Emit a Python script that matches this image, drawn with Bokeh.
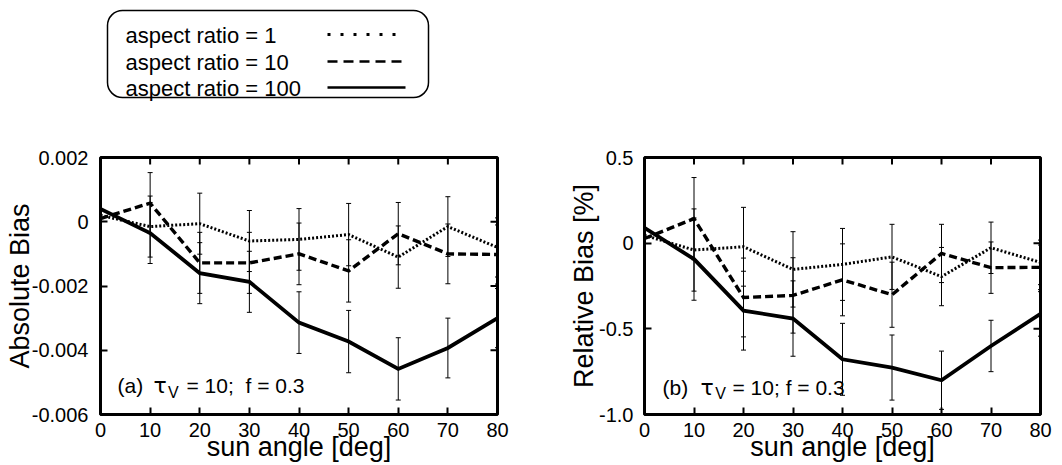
from bokeh.plotting import figure
from bokeh.layouts import column, row
from bokeh.models import (Range1d, FixedTicker, Whisker, TeeHead,
                          ColumnDataSource, Label, BoxAnnotation)
from bokeh.core.properties import value
from bokeh.embed import file_html
from bokeh.resources import INLINE

FONT = "Liberation Sans"

# ---------------- data ----------------
sun_angle = [0, 10, 20, 30, 40, 50, 60, 70, 80]
series_labels = ["aspect ratio = 1", "aspect ratio = 10", "aspect ratio = 100"]

# (a) absolute bias
abs_ar1 = [0.0002, -0.00015, -0.00006, -0.0006, -0.00055, -0.0004, -0.0011, -0.00015, -0.0008]
abs_ar10 = [0.0001, 0.00058, -0.00128, -0.00128, -0.0010, -0.00153, -0.00037, -0.0010, -0.00102]
abs_ar100 = [0.0004, -0.00035, -0.0016, -0.00187, -0.00314, -0.00373, -0.00458, -0.00393, -0.0030]
abs_err = [0.0, 0.00095, 0.00095, 0.00095, 0.00096, 0.00097, 0.00097, 0.00093, 0.00092]

# (b) relative bias [%]
rel_ar1 = [0.046, -0.04, -0.021, -0.153, -0.124, -0.08, -0.195, -0.027, -0.112]
rel_ar10 = [0.027, 0.143, -0.317, -0.305, -0.214, -0.301, -0.06, -0.143, -0.141]
rel_ar100 = [0.089, -0.093, -0.394, -0.44, -0.678, -0.726, -0.80, -0.60, -0.413]
rel_err = [0.0, 0.24, 0.23, 0.22, 0.21, 0.19, 0.17, 0.15, 0.13]

x_ticks = [0, 10, 20, 30, 40, 50, 60, 70, 80]
abs_ticks = [0.002, 0, -0.002, -0.004, -0.006]
abs_tick_labels = ["0.002", "0", "-0.002", "-0.004", "-0.006"]
rel_ticks = [0.5, 0, -0.5, -1.0]
rel_tick_labels = ["0.5", "0", "-0.5", "-1.0"]

styles = [
    dict(line_dash="2 2", line_width=3.0),
    dict(line_dash="8 4", line_width=3.4),
    dict(line_dash="solid", line_width=3.8),
]

TICK_LEN = 7


def make_panel(values, err, yr, yticks, ylabels, ylabel, width, height,
               bl, br, bt, bb, ystand, ylab_stand, tag, ann):
    p = figure(width=width, height=height,
               x_range=Range1d(0, 80), y_range=Range1d(*yr),
               min_border_left=bl, min_border_right=br,
               min_border_top=bt, min_border_bottom=bb,
               toolbar_location=None, output_backend="svg")
    p.grid.visible = False
    p.outline_line_color = "black"
    p.outline_line_width = 3
    p.background_fill_color = "white"
    p.border_fill_color = "white"

    p.xaxis.ticker = FixedTicker(ticks=x_ticks)
    p.yaxis.ticker = FixedTicker(ticks=yticks)
    p.yaxis.major_label_overrides = {t: l for t, l in zip(yticks, ylabels)}
    for ax in p.xaxis + p.yaxis:
        ax.axis_line_color = None
        ax.major_tick_in = TICK_LEN
        ax.major_tick_out = 0
        ax.major_tick_line_width = 2
        ax.minor_tick_line_color = None
        ax.major_label_text_font = FONT
        ax.major_label_text_font_size = "20px"
        ax.major_label_text_color = "black"
        ax.axis_label_text_font = FONT
        ax.axis_label_text_font_size = "27px"
        ax.axis_label_text_font_style = "normal"
        ax.axis_label_text_color = "black"
    p.xaxis.axis_label = "sun angle [deg]"
    p.xaxis.major_label_standoff = 8
    p.xaxis.axis_label_standoff = -8
    p.yaxis.axis_label = ylabel
    p.yaxis.major_label_standoff = ystand
    p.yaxis.axis_label_standoff = ylab_stand

    # mirrored inward ticks on top and right sides of the frame
    fw = width - bl - br
    fh = height - bt - bb
    ymin, ymax = yr
    dy = TICK_LEN * (ymax - ymin) / fh
    dx = TICK_LEN * 80 / fw
    p.segment(x0=x_ticks, y0=[ymax] * len(x_ticks), x1=x_ticks,
              y1=[ymax - dy] * len(x_ticks), line_color="black", line_width=2)
    p.segment(x0=[80] * len(yticks), y0=yticks, x1=[80 - dx] * len(yticks),
              y1=yticks, line_color="black", line_width=2)

    # error bars
    for vals in values:
        xs, up, lo = [], [], []
        for xv, v, e in zip(sun_angle, vals, err):
            if e > 0:
                xs.append(xv)
                up.append(v + e)
                lo.append(v - e)
        src = ColumnDataSource(dict(x=xs, upper=up, lower=lo))
        w = Whisker(source=src, base="x", upper="upper", lower="lower",
                    line_color="black", line_width=1,
                    upper_head=TeeHead(size=5, line_width=1, line_color="black"),
                    lower_head=TeeHead(size=5, line_width=1, line_color="black"))
        p.add_layout(w)

    # lines
    for vals, st, lab in zip(values, styles, series_labels):
        p.line(sun_angle, vals, line_color="black", line_join="miter", name=lab, **st)

    # annotation "(x) tau_V = 10; f = 0.3"
    (x_tag, x_tau, x_sub, x_rest, ybase, ysub) = ann
    common = dict(text_color="black", text_baseline="alphabetic")
    p.add_layout(Label(x=x_tag, y=ybase, text=f"({tag})", text_font=FONT,
                       text_font_size="21px", **common))
    p.add_layout(Label(x=x_tau, y=ybase, text="\u03c4", text_font="DejaVu Sans",
                       text_font_size="22px", **common))
    p.add_layout(Label(x=x_sub, y=ysub, text="V", text_font=FONT,
                       text_font_size="16px", **common))
    rest = "= 10;\u00a0 f = 0.3" if tag == "a" else "= 10; f = 0.3"
    p.add_layout(Label(x=x_rest, y=ybase, text=rest, text_font=FONT,
                       text_font_size="21px", **common))
    return p


p1 = make_panel([abs_ar1, abs_ar10, abs_ar100], abs_err, (-0.006, 0.002),
                abs_ticks, abs_tick_labels, "Absolute Bias",
                566, 324, 100, 69, 17, 49, 12, -6, "a",
                (3.43, 10.68, 13.6, 17.33, -0.0051, -0.00532))
p2 = make_panel([rel_ar1, rel_ar10, rel_ar100], rel_err, (-1.0, 0.5),
                rel_ticks, rel_tick_labels, "Relative Bias [%]",
                495, 324, 78, 21, 15, 50, 11, -3, "b",
                (3.64, 11.31, 14.3, 17.78, -0.84, -0.88))

# ---------------- legend (text left, sample right) ----------------
LW, LH = 1061, 140
pl = figure(width=LW, height=LH, x_range=Range1d(0, LW), y_range=Range1d(LH, 0),
            x_axis_location=None, y_axis_location=None, min_border=0,
            toolbar_location=None, output_backend="svg")
pl.grid.visible = False
pl.outline_line_color = None

box = BoxAnnotation(left=107, right=428, top=10, bottom=97,
                    fill_color=None, fill_alpha=0, line_color="black",
                    line_alpha=1.0, line_width=1.5)
try:
    box.border_radius = 15
except Exception:
    pass
pl.add_layout(box)

row_y = [35, 62, 88]
pl.text(x=[125] * 3, y=row_y, text=series_labels, text_font=value(FONT),
        text_font_size="22px", text_baseline="middle", text_color="black")
legend_styles = [
    dict(line_dash="3 10", line_width=3),
    dict(line_dash="10 6", line_width=2.5),
    dict(line_dash="solid", line_width=2.5),
]
for yy, st in zip(row_y, legend_styles):
    pl.line([327, 405], [yy - 1, yy - 1], line_color="black", **st)

layout = column(pl, row(p1, p2))
open("out.html", "w").write(file_html(layout, INLINE))
